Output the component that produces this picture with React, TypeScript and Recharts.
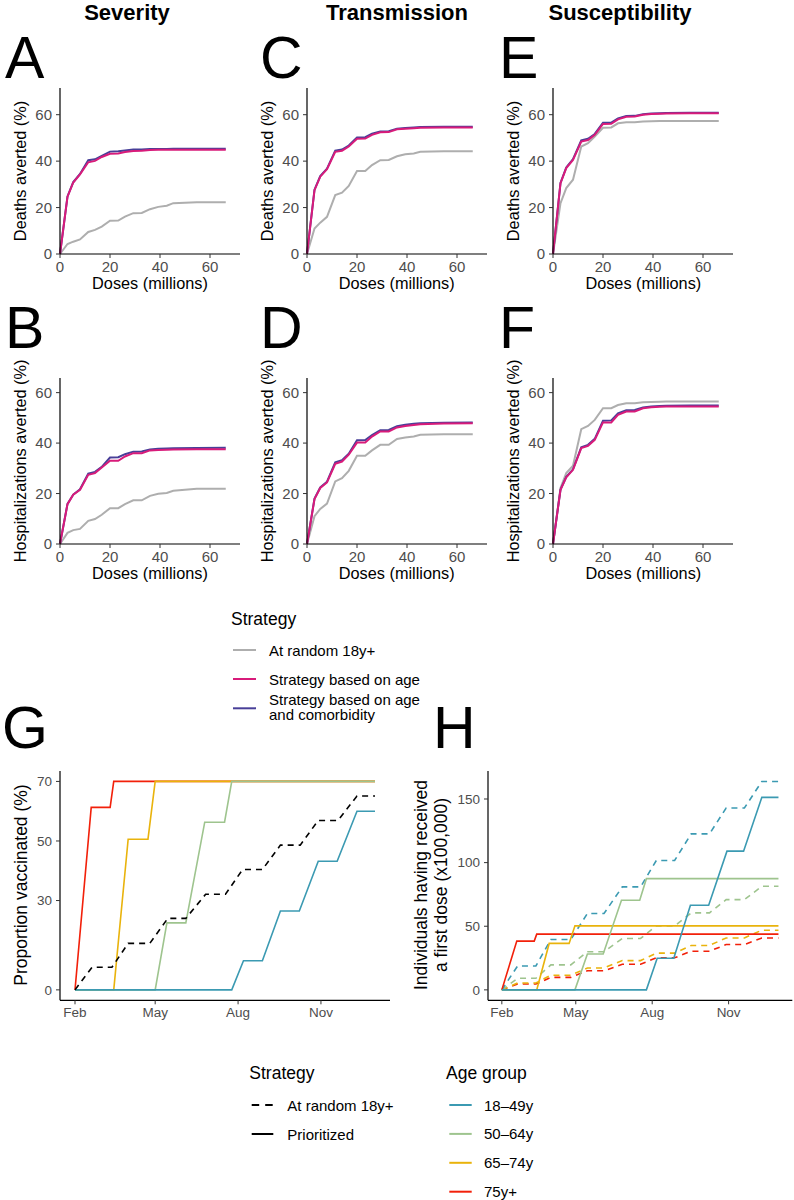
import React from 'react';
import { LineChart, Line, XAxis, YAxis } from 'recharts';

const FONT = '"Liberation Sans", Arial, Helvetica, sans-serif';
const TICK_COLOR = '#4D4D4D';

// ---- top six panels: doses (millions) on x ----
const DOSES = [0, 3, 5.3, 8, 11.3, 14, 16.7, 20, 23.3, 26, 29.3, 32.7, 36, 39.3, 42.7, 45.3, 54.7, 66.3];
const DOSE_TICKS = [0, 20, 40, 60];
const PCT_TICKS = [0, 20, 40, 60];

// A - deaths averted, severity
const A_RANDOM = [0, 4.3, 5.3, 6.3, 9.5, 10.4, 11.8, 14.3, 14.4, 16.1, 17.6, 17.7, 19.3, 20.3, 20.8, 21.9, 22.3, 22.3];
const A_AGE = [0, 24.7, 30.8, 34.3, 39.5, 40.1, 41.8, 43.2, 43.3, 43.9, 44.4, 44.5, 44.8, 44.9, 44.9, 44.9, 44.9, 44.9];
const A_AGE_COM = [0, 24.8, 31, 34.5, 40.4, 40.8, 42.3, 44.1, 44.3, 44.6, 45, 45, 45.2, 45.2, 45.2, 45.3, 45.3, 45.3];
// B - hospitalizations averted, severity
const B_RANDOM = [0, 4.4, 5.5, 6, 9.2, 9.9, 11.6, 14.2, 14.2, 15.8, 17.3, 17.3, 19.1, 19.9, 20.2, 21.1, 21.9, 21.9];
const B_AGE = [0, 15.8, 19.5, 21.5, 27.4, 28.1, 30.3, 33, 33, 34.7, 36, 36, 37.1, 37.3, 37.4, 37.5, 37.6, 37.6];
const B_AGE_COM = [0, 15.9, 19.6, 21.7, 27.9, 28.6, 30.6, 34.3, 34.4, 35.6, 36.6, 36.7, 37.5, 37.8, 37.9, 38, 38.1, 38.2];
// C - deaths averted, transmission
const C_RANDOM = [0, 11, 13.5, 16, 25.4, 26.4, 29.3, 35.7, 35.7, 38.3, 40.4, 40.5, 42.1, 43, 43.3, 44, 44.3, 44.3];
const C_AGE = [0, 27.5, 33.3, 36.5, 44, 44.5, 46.3, 49.6, 49.7, 51.3, 52.4, 52.5, 53.7, 54, 54.2, 54.4, 54.5, 54.5];
const C_AGE_COM = [0, 27.7, 33.6, 36.8, 44.5, 45, 46.7, 50.2, 50.3, 51.8, 52.8, 52.9, 54, 54.3, 54.5, 54.7, 54.8, 54.8];
// D - hospitalizations averted, transmission
const D_RANDOM = [0, 11, 13.9, 16, 24.8, 26.1, 29, 35, 35, 37.1, 39.3, 39.3, 41.6, 42.2, 42.6, 43.3, 43.5, 43.5];
const D_AGE = [0, 17.8, 22.2, 24.4, 31.8, 32.7, 35.4, 40.2, 40.2, 42.6, 44.6, 44.6, 46.2, 46.8, 47.2, 47.5, 47.8, 47.9];
const D_AGE_COM = [0, 18, 22.4, 24.7, 32.4, 33.2, 35.8, 41.1, 41.2, 43.2, 45.1, 45.2, 46.7, 47.3, 47.7, 47.9, 48.1, 48.2];
// E - deaths averted, susceptibility
const E_RANDOM = [0, 21.9, 28.4, 32, 46.3, 47.7, 50.6, 54.4, 54.5, 56.3, 56.7, 56.8, 57.1, 57.2, 57.3, 57.3, 57.3, 57.3];
const E_AGE = [0, 30.5, 37, 40.5, 48.4, 49.1, 51.3, 56, 56.1, 58, 59.1, 59.2, 60, 60.3, 60.4, 60.5, 60.6, 60.6];
const E_AGE_COM = [0, 30.6, 37.3, 40.9, 48.9, 49.6, 51.7, 56.5, 56.6, 58.4, 59.4, 59.5, 60.2, 60.5, 60.6, 60.7, 60.8, 60.8];
// F - hospitalizations averted, susceptibility
const F_RANDOM = [0, 22.2, 28.1, 31, 45.5, 46.8, 49.2, 53.8, 53.8, 55.1, 55.8, 55.8, 56.2, 56.3, 56.4, 56.5, 56.5, 56.5];
const F_AGE = [0, 21.5, 26.4, 29.4, 38, 38.9, 41.3, 48.2, 48.2, 51.2, 52.5, 52.5, 53.8, 54.2, 54.4, 54.5, 54.5, 54.5];
const F_AGE_COM = [0, 21.6, 26.6, 29.6, 38.3, 39.3, 41.7, 48.9, 49, 51.8, 53, 53.1, 54.1, 54.5, 54.7, 54.8, 54.9, 54.9];

// ---- G / H: day of year 2021 on x ----
const MONTH_TICKS = [32, 121, 213, 305];
const MONTH_LABELS = ['Feb', 'May', 'Aug', 'Nov'];
const G_TICKS = [0, 30, 50, 70];
const H_TICKS = [0, 50, 100, 150];

const RANDOM_DAYS = [32, 51, 73, 91, 115, 135, 155, 177, 199, 218, 240, 260, 282, 302, 324, 345, 365];
const G_RANDOM = [0, 7.6, 7.6, 15.6, 15.6, 24, 24, 32.1, 32.1, 40.4, 40.4, 48.6, 48.6, 56.9, 56.9, 65.1, 65.1];

const G_75_DAYS = [32, 50, 71, 75, 365];
const G_75 = [0, 61.3, 61.3, 70, 70];
const G_65_DAYS = [32, 75, 91, 113, 121, 365];
const G_65 = [0, 0, 50.6, 50.6, 70, 70];
const G_50_DAYS = [32, 121, 134, 155, 176, 198, 206, 365];
const G_50 = [0, 0, 22.5, 22.5, 56.3, 56.3, 70, 70];
const G_18_DAYS = [32, 206, 219, 240, 260, 281, 302, 323, 345, 365];
const G_18 = [0, 0, 9.8, 9.8, 26.5, 26.5, 43.2, 43.2, 60, 60];

const H_75_DAYS = [32, 50, 71, 74, 365];
const H_75 = [0, 38.3, 38.3, 43.8, 43.8];
const H_65_DAYS = [32, 74, 89, 113, 120, 365];
const H_65 = [0, 0, 36.5, 36.5, 50.3, 50.3];
const H_50_DAYS = [32, 120, 135, 154, 176, 198, 206, 365];
const H_50 = [0, 0, 28.2, 28.2, 70.4, 70.4, 87.4, 87.4];
const H_18_DAYS = [32, 206, 219, 239, 259, 281, 303, 323, 345, 365];
const H_18 = [0, 0, 24.8, 24.8, 66.5, 66.5, 109, 109, 151.3, 151.3];

const H_18_RANDOM = [0, 18.8, 18.8, 39.6, 39.6, 60, 60, 80.9, 80.9, 101.7, 101.7, 122.6, 122.6, 142.9, 142.9, 163.8, 163.8];
const H_50_RANDOM = [0, 9.1, 9.1, 19.6, 19.6, 30, 30, 40.4, 40.4, 50.3, 50.3, 60.5, 60.5, 70.9, 70.9, 81.4, 81.4];
const H_65_RANDOM = [0, 5.4, 5.4, 11.5, 11.5, 17.2, 17.2, 23, 23, 28.9, 28.9, 34.9, 34.9, 40.8, 40.8, 46.9, 46.9];
const H_75_RANDOM = [0, 4.6, 4.6, 9.8, 9.8, 15, 15, 20.1, 20.1, 25.2, 25.2, 30.4, 30.4, 35.6, 35.6, 40.7, 40.7];

const GREY = '#AEAEAE';
const MAGENTA = '#D81B7A';
const PURPLE = '#483F98';
const AGE_COLORS = { a18: '#3B9AB2', a50: '#9EC48E', a65: '#E9B30C', a75: '#F2200A' };

const toDoseRows = (random: number[], age: number[], ageCom: number[]) =>
  DOSES.map((dose, i) => ({ dose, random: random[i], age: age[i], ageCom: ageCom[i] }));

const toDayRows = (days: number[], values: number[]) => days.map((day, i) => ({ day, v: values[i] }));

const axisLine = { stroke: '#000', strokeWidth: 1.2 };
const tickLine = { stroke: '#333', strokeWidth: 1 };

type DosePanelProps = { left: number; top: number; plotH: number; yMax: number; rows: any[] };

const DosePanel = ({ left, top, plotH, yMax, rows }: DosePanelProps) => (
  <div style={{ position: 'absolute', left: left - 40, top: top - 2 }}>
    <LineChart width={40 + 180 + 4} height={2 + plotH + 30} data={rows} margin={{ top: 2, right: 4, bottom: 0, left: 0 }}>
      <XAxis
        dataKey="dose"
        type="number"
        domain={[0, 72]}
        ticks={DOSE_TICKS}
        interval={0}
        height={30}
        axisLine={axisLine}
        tickLine={tickLine}
        tickSize={4}
        tickMargin={3}
        tick={{ fill: TICK_COLOR, fontSize: 15, fontFamily: FONT }}
      />
      <YAxis
        type="number"
        domain={[0, yMax]}
        ticks={PCT_TICKS}
        interval={0}
        width={40}
        axisLine={axisLine}
        tickLine={tickLine}
        tickSize={4}
        tickMargin={4}
        tick={{ fill: TICK_COLOR, fontSize: 15, fontFamily: FONT }}
      />
      <Line dataKey="random" stroke={GREY} strokeWidth={2} dot={false} isAnimationActive={false} />
      <Line dataKey="ageCom" stroke={PURPLE} strokeWidth={2} dot={false} isAnimationActive={false} />
      <Line dataKey="age" stroke={MAGENTA} strokeWidth={2} dot={false} isAnimationActive={false} />
    </LineChart>
  </div>
);

type Series = { days: number[]; values: number[]; color: string; dashed?: boolean };

type TimePanelProps = { left: number; top: number; plotW: number; yDomain: [number, number]; yTicks: number[]; series: Series[] };

const TimePanel = ({ left, top, plotW, yDomain, yTicks, series }: TimePanelProps) => (
  <div style={{ position: 'absolute', left: left - 40, top: top - 2 }}>
    <LineChart width={40 + plotW + 2} height={2 + 229.3 + 30} margin={{ top: 2, right: 2, bottom: 0, left: 0 }}>
      <XAxis
        dataKey="day"
        type="number"
        domain={[15.35, 381.65]}
        ticks={MONTH_TICKS}
        interval={0}
        height={30}
        allowDuplicatedCategory={false}
        tickFormatter={(d: number) => MONTH_LABELS[MONTH_TICKS.indexOf(d)]}
        axisLine={axisLine}
        tickLine={tickLine}
        tickSize={4}
        tickMargin={3}
        tick={{ fill: TICK_COLOR, fontSize: 13.5, fontFamily: FONT }}
      />
      <YAxis
        type="number"
        domain={yDomain}
        ticks={yTicks}
        interval={0}
        width={40}
        axisLine={axisLine}
        tickLine={tickLine}
        tickSize={4}
        tickMargin={4}
        tick={{ fill: TICK_COLOR, fontSize: 13.5, fontFamily: FONT }}
      />
      {series.map((s, i) => (
        <Line
          key={i}
          data={toDayRows(s.days, s.values)}
          dataKey="v"
          stroke={s.color}
          strokeWidth={1.6}
          strokeDasharray={s.dashed ? '6 5' : undefined}
          dot={false}
          isAnimationActive={false}
        />
      ))}
    </LineChart>
  </div>
);

const G_SERIES: Series[] = [
  { days: G_75_DAYS, values: G_75, color: AGE_COLORS.a75 },
  { days: G_65_DAYS, values: G_65, color: AGE_COLORS.a65 },
  { days: G_50_DAYS, values: G_50, color: AGE_COLORS.a50 },
  { days: G_18_DAYS, values: G_18, color: AGE_COLORS.a18 },
  { days: RANDOM_DAYS, values: G_RANDOM, color: '#000', dashed: true },
];

const H_SERIES: Series[] = [
  { days: RANDOM_DAYS, values: H_75_RANDOM, color: AGE_COLORS.a75, dashed: true },
  { days: RANDOM_DAYS, values: H_65_RANDOM, color: AGE_COLORS.a65, dashed: true },
  { days: RANDOM_DAYS, values: H_50_RANDOM, color: AGE_COLORS.a50, dashed: true },
  { days: RANDOM_DAYS, values: H_18_RANDOM, color: AGE_COLORS.a18, dashed: true },
  { days: H_75_DAYS, values: H_75, color: AGE_COLORS.a75 },
  { days: H_65_DAYS, values: H_65, color: AGE_COLORS.a65 },
  { days: H_50_DAYS, values: H_50, color: AGE_COLORS.a50 },
  { days: H_18_DAYS, values: H_18, color: AGE_COLORS.a18 },
];

const COLS = [60, 306.7, 553.3];
const COL_TITLES = ['Severity', 'Transmission', 'Susceptibility'];
const COL_TITLE_X = [127, 397, 620];
const TOP_LETTERS = ['A', 'C', 'E'];
const BOTTOM_LETTERS = ['B', 'D', 'F'];
const LETTER_X = [5, 260, 499];

const Rot = ({ x, y, size, children }: { x: number; y: number; size: number; children: React.ReactNode }) => (
  <text x={x} y={y} transform={`rotate(-90 ${x} ${y})`} textAnchor="middle" fontSize={size} fill="#000">
    {children}
  </text>
);

export default function App() {
  const topRows = [toDoseRows(A_RANDOM, A_AGE, A_AGE_COM), toDoseRows(C_RANDOM, C_AGE, C_AGE_COM), toDoseRows(E_RANDOM, E_AGE, E_AGE_COM)];
  const bottomRows = [toDoseRows(B_RANDOM, B_AGE, B_AGE_COM), toDoseRows(D_RANDOM, D_AGE, D_AGE_COM), toDoseRows(F_RANDOM, F_AGE, F_AGE_COM)];

  return (
    <div style={{ position: 'absolute', left: 0, top: 0, width: 794, height: 1200, background: '#fff', fontFamily: FONT, overflow: 'hidden' }}>
      {COLS.map((x, i) => (
        <DosePanel key={`t${i}`} left={x} top={88} plotH={166} yMax={71.5} rows={topRows[i]} />
      ))}
      {COLS.map((x, i) => (
        <DosePanel key={`b${i}`} left={x} top={378} plotH={166} yMax={65.8} rows={bottomRows[i]} />
      ))}
      <TimePanel left={60} top={770.7} plotW={330} yDomain={[-3.5, 73.5]} yTicks={G_TICKS} series={G_SERIES} />
      <TimePanel left={487.7} top={770.7} plotW={304.3} yDomain={[-8.2, 172]} yTicks={H_TICKS} series={H_SERIES} />

      <svg width={794} height={1200} style={{ position: 'absolute', left: 0, top: 0, pointerEvents: 'none' }} fontFamily={FONT}>
        {COL_TITLES.map((t, i) => (
          <text key={t} x={COL_TITLE_X[i]} y={20} textAnchor="middle" fontSize={22} fontWeight="bold">
            {t}
          </text>
        ))}
        {TOP_LETTERS.map((l, i) => (
          <text key={l} x={LETTER_X[i]} y={78} fontSize={59}>{l}</text>
        ))}
        {BOTTOM_LETTERS.map((l, i) => (
          <text key={l} x={LETTER_X[i]} y={348} fontSize={59}>{l}</text>
        ))}
        <text x={2} y={748} fontSize={59}>G</text>
        <text x={433} y={748} fontSize={59}>H</text>

        {COLS.map((x, i) => (
          <g key={`lab${i}`}>
            <Rot x={x - 34} y={171} size={16.3}>Deaths averted (%)</Rot>
            <Rot x={x - 34} y={461} size={16.3}>Hospitalizations averted (%)</Rot>
            <text x={x + 90} y={289} textAnchor="middle" fontSize={16.3}>Doses (millions)</text>
            <text x={x + 90} y={579} textAnchor="middle" fontSize={16.3}>Doses (millions)</text>
          </g>
        ))}

        {/* strategy legend of the top panels */}
        <text x={231} y={625} fontSize={17.5}>Strategy</text>
        <line x1={233} x2={256} y1={650} y2={650} stroke={GREY} strokeWidth={2} />
        <text x={269} y={655.5} fontSize={15}>At random 18y+</text>
        <line x1={233} x2={256} y1={679} y2={679} stroke={MAGENTA} strokeWidth={2} />
        <text x={269} y={684.5} fontSize={15}>Strategy based on age</text>
        <line x1={233} x2={256} y1={708.3} y2={708.3} stroke={PURPLE} strokeWidth={2} />
        <text x={269} y={705} fontSize={15}>Strategy based on age</text>
        <text x={269} y={720} fontSize={15}>and comorbidity</text>

        <Rot x={27} y={885} size={17.5}>Proportion vaccinated (%)</Rot>
        <Rot x={427.3} y={885} size={17.5}>Individuals having received</Rot>
        <Rot x={446.7} y={885} size={17.5}>a first dose (x100,000)</Rot>

        {/* bottom legends */}
        <text x={249.3} y={1079} fontSize={17.5}>Strategy</text>
        <line x1={251.7} x2={273.3} y1={1105} y2={1105} stroke="#000" strokeWidth={2} strokeDasharray="7.5 6" />
        <text x={287.3} y={1110.5} fontSize={15}>At random 18y+</text>
        <line x1={251.7} x2={273.3} y1={1134} y2={1134} stroke="#000" strokeWidth={2} />
        <text x={287.3} y={1139.5} fontSize={15}>Prioritized</text>

        <text x={446} y={1079} fontSize={17.5}>Age group</text>
        {[
          ['18–49y', AGE_COLORS.a18],
          ['50–64y', AGE_COLORS.a50],
          ['65–74y', AGE_COLORS.a65],
          ['75y+', AGE_COLORS.a75],
        ].map(([label, color], i) => (
          <g key={label}>
            <line x1={449.3} x2={471.7} y1={1105 + i * 28.9} y2={1105 + i * 28.9} stroke={color} strokeWidth={2} />
            <text x={484} y={1110.5 + i * 28.9} fontSize={15}>{label}</text>
          </g>
        ))}
      </svg>
    </div>
  );
}
